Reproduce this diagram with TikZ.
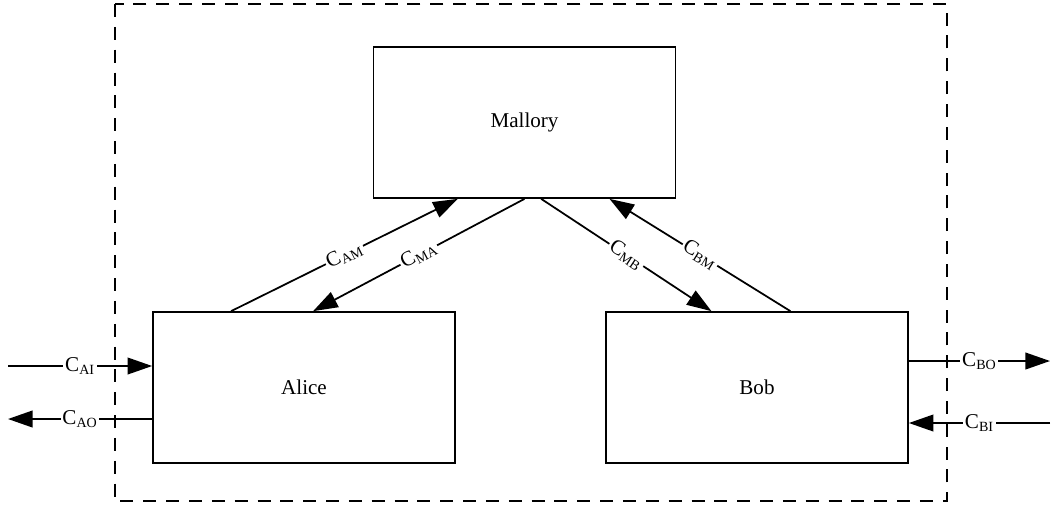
\documentclass[tikz,border=0pt]{standalone}
\usepackage{fontspec}
\setmainfont{Liberation Serif}
\usetikzlibrary{arrows.meta,calc}

\begin{document}
\begin{tikzpicture}[
        x=0.02cm, y=-0.02cm,
        party/.style={draw, line width=1pt, minimum width=6.04cm, minimum height=3.02cm, inner sep=0pt, font=\fontsize{12}{14}\selectfont},
        chan/.style={-{Triangle[length=14pt,width=9.5pt]}, line width=1pt},
        lbl/.style={fill=white, inner sep=1pt, midway, font=\fontsize{12}{14}\selectfont}
    ]
        \useasboundingbox (0,0) rectangle (1051,505);
        % system boundary
        \draw[line width=0.9pt, dash pattern=on 7.4pt off 5.6pt] (115,4) rectangle (947,501);

        \node[party] (mallory) at (524.5,122.5) {Mallory};
        \node[party] (alice) at (304,387.5) {Alice};
        \node[party] (bob) at (757,387.5) {Bob};

        % links between Mallory and the parties
        \draw[chan] ($(alice.north west)!0.26!(alice.north east)$) -- node[lbl, sloped] {C\textsubscript{AM}} ($(mallory.south west)!0.28!(mallory.south east)$);
        \draw[chan] ($(mallory.south west)!0.50!(mallory.south east)$) -- node[lbl, sloped] {C\textsubscript{MA}} ($(alice.north west)!0.53!(alice.north east)$);
        \draw[chan] ($(mallory.south west)!0.555!(mallory.south east)$) -- node[lbl, sloped] {C\textsubscript{MB}} ($(bob.north west)!0.35!(bob.north east)$);
        \draw[chan] ($(bob.north west)!0.61!(bob.north east)$) -- node[lbl, sloped] {C\textsubscript{BM}} ($(mallory.south west)!0.78!(mallory.south east)$);

        % outside channels
        \coordinate (ai) at (8,366);
        \coordinate (ao) at (8,419);
        \coordinate (bo) at (1050,361);
        \coordinate (bi) at (1050,423);
        \draw[chan] (ai) -- node[lbl] {C\textsubscript{AI}} (alice.west |- ai);
        \draw[chan] (alice.west |- ao) -- node[lbl] {C\textsubscript{AO}} (ao);
        \draw[chan] (bob.east |- bo) -- node[lbl] {C\textsubscript{BO}} (bo);
        \draw[chan] (bi) -- node[lbl] {C\textsubscript{BI}} (bob.east |- bi);
    \end{tikzpicture}
\end{document}
